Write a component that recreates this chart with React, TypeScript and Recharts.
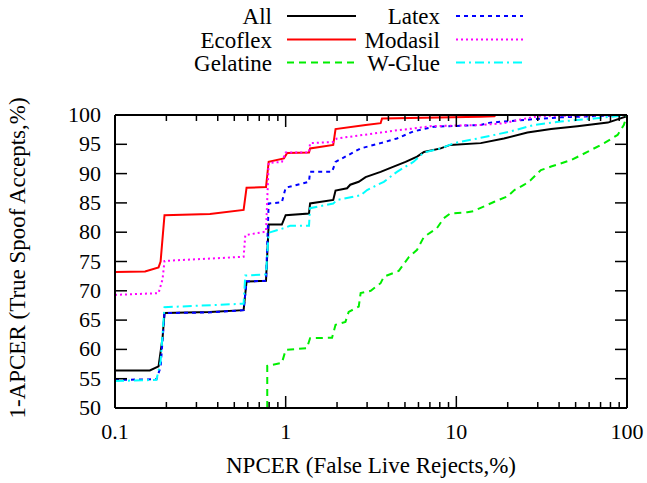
import React from 'react';
import { LineChart, Line, XAxis, YAxis } from 'recharts';

const FONT = "'Liberation Serif', 'Times New Roman', serif";

const xMajorTicks = [0.1, 1, 10, 100];
const xMinorTicks = [0.2, 0.3, 0.4, 0.5, 0.6, 0.7, 0.8, 0.9, 2, 3, 4, 5, 6, 7, 8, 9, 20, 30, 40, 50, 60, 70, 80, 90];
const yTicks = [50, 55, 60, 65, 70, 75, 80, 85, 90, 95, 100];
const xLabel = 'NPCER (False Live Rejects,%)';
const yLabel = '1-APCER (True Spoof Accepts,%)';

const allData: [number, number][] = [
  [0.1, 56.4], [0.16, 56.4], [0.18, 57.1], [0.19, 62], [0.195, 66.2], [0.36, 66.4], [0.567, 66.7],
  [0.59, 71.6], [0.767, 71.7], [0.795, 81.3], [0.95, 81.3], [1.0, 82.9], [1.37, 83.2], [1.39, 84.9],
  [1.9, 85.5], [1.96, 87.1], [2.29, 87.5], [2.39, 88.1], [2.68, 88.6], [2.94, 89.4], [3.6, 90.3],
  [4.29, 91.2], [5.04, 92.0], [5.89, 92.9], [6.46, 93.7], [8.1, 94.3], [9.2, 94.9], [13.9, 95.2],
  [19.0, 96.0], [26.1, 97.0], [35.9, 97.6], [51.2, 98.1], [77.2, 98.7], [100, 99.8],
];
const ecoflexData: [number, number][] = [
  [0.1, 73.2], [0.15, 73.3], [0.18, 74.0], [0.185, 75], [0.195, 82.9], [0.36, 83.1], [0.567, 83.8],
  [0.59, 87.6], [0.767, 87.7], [0.795, 92.0], [0.977, 92.6], [1.02, 93.5], [1.37, 93.6], [1.39, 94.3],
  [1.9, 94.9], [1.96, 97.6], [2.94, 98.3], [3.6, 98.6], [3.67, 99.4], [13.9, 99.7], [16.7, 99.8],
  [17, 100], [100, 100],
];
const gelatineData: [number, number][] = [
  [0.78, 50], [0.78, 57.2], [0.81, 57.3], [0.95, 57.7], [1.0, 59.9], [1.33, 60.2], [1.39, 61.9],
  [1.87, 62.0], [1.96, 64.2], [2.24, 64.7], [2.34, 66.4], [2.68, 67.3], [2.75, 69.6], [3.15, 70.0],
  [3.6, 71.3], [3.76, 72.4], [4.6, 73.4], [5.28, 75.8], [5.89, 77.0], [6.46, 79.2], [7.7, 80.7],
  [8.45, 82.4], [9.2, 83.2], [11.6, 83.4], [12.6, 83.6], [16.7, 85.2], [19.9, 86.1], [21.9, 87.2],
  [25.0, 88.1], [27.3, 88.9], [31.3, 90.6], [35.9, 91.2], [47.0, 92.3], [58.6, 93.7], [73.5, 95.2],
  [88.1, 96.6], [95.8, 98.3], [100, 100],
];
const latexData: [number, number][] = [
  [0.1, 54.8], [0.175, 54.9], [0.185, 57], [0.195, 66.2], [0.353, 66.3], [0.567, 66.7], [0.59, 71.6],
  [0.767, 71.7], [0.795, 84.9], [0.95, 85.1], [1.0, 87.6], [1.37, 88.6], [1.39, 90.3], [1.87, 90.3],
  [1.96, 92.0], [2.75, 94.3], [3.6, 95.2], [4.49, 96.0], [5.6, 97.2], [7.4, 98.0], [13.9, 98.3],
  [15.8, 98.7], [26.1, 99.2], [40.8, 99.6], [100, 100],
];
const modasilData: [number, number][] = [
  [0.1, 69.3], [0.18, 69.6], [0.19, 72], [0.195, 75.1], [0.567, 75.8], [0.58, 79.5], [0.767, 80.1],
  [0.795, 91.8], [0.95, 92.0], [1.0, 93.6], [1.37, 93.6], [1.39, 95.2], [1.9, 95.4], [2.0, 96.0],
  [3.6, 97.0], [4.49, 97.4], [5.6, 97.7], [7.1, 98.1], [13.9, 98.3], [19.0, 98.6], [22.7, 99.1],
  [29.9, 99.8], [100, 100],
];
const wglueData: [number, number][] = [
  [0.1, 54.6], [0.175, 54.8], [0.185, 58], [0.195, 67.2], [0.567, 67.8], [0.58, 72.6], [0.767, 72.8],
  [0.795, 79.9], [0.977, 80.7], [1.06, 81.1], [1.37, 81.1], [1.39, 84.1], [1.9, 84.9], [2.0, 85.5],
  [2.75, 86.3], [3.0, 87.2], [3.76, 88.6], [4.49, 90.3], [5.6, 92.0], [6.46, 93.6], [8.1, 94.3],
  [9.7, 95.2], [13.9, 96.1], [20.8, 97.2], [28.5, 98.3], [40.8, 98.9], [64.5, 99.4], [100, 100],
];

const toPoints = (arr: [number, number][]) => arr.map(([x, y]) => ({ x, y }));

const series = [
  { name: 'All', data: allData, color: '#000000', dash: undefined as string | undefined },
  { name: 'Ecoflex', data: ecoflexData, color: '#ff0000', dash: undefined },
  { name: 'Gelatine', data: gelatineData, color: '#00ee00', dash: '7 5' },
  { name: 'Latex', data: latexData, color: '#0000ff', dash: '4 4' },
  { name: 'Modasil', data: modasilData, color: '#ff00ff', dash: '2 3' },
  { name: 'W-Glue', data: wglueData, color: '#00ffff', dash: '9 4 2 4' },
];

const allXTicks = [...xMajorTicks, ...xMinorTicks].sort((a, b) => a - b);
const isMajor = (v: number) => xMajorTicks.some((m) => Math.abs(m - v) < 1e-9);

const M = { top: 114, right: 19, bottom: 15, left: 15 };
const BOTTOM_H = 60;
const LEFT_W = 100;
const TICK_FS = 22;
const LABEL_FS = 23;

const BottomTick = (props: any) => {
  const { x, y, payload } = props;
  const v = payload.value;
  const major = isMajor(v);
  return (
    <g>
      <line x1={x} y1={y} x2={x} y2={y - (major ? 12 : 6)} stroke="#000" strokeWidth={1.5} />
      {major && (
        <text x={x} y={y + 31} textAnchor="middle" fontFamily={FONT} fontSize={TICK_FS} fill="#000">
          {String(v)}
        </text>
      )}
    </g>
  );
};

const TopTick = (props: any) => {
  const { x, y, payload } = props;
  const major = isMajor(payload.value);
  return <line x1={x} y1={y} x2={x} y2={y + (major ? 12 : 6)} stroke="#000" strokeWidth={1.5} />;
};

const LeftTick = (props: any) => {
  const { x, y, payload } = props;
  return (
    <g>
      <line x1={x} y1={y} x2={x + 12} y2={y} stroke="#000" strokeWidth={1.5} />
      <text x={x - 14} y={y + 7} textAnchor="end" fontFamily={FONT} fontSize={TICK_FS} fill="#000">
        {String(payload.value)}
      </text>
    </g>
  );
};

const RightTick = (props: any) => {
  const { x, y } = props;
  return <line x1={x} y1={y} x2={x - 12} y2={y} stroke="#000" strokeWidth={1.5} />;
};

const XLabel = (props: any) => {
  const vb = props.viewBox || {};
  return (
    <text x={vb.x + vb.width / 2} y={vb.y + 65} textAnchor="middle" fontFamily={FONT} fontSize={LABEL_FS} fill="#000">
      {xLabel}
    </text>
  );
};

const YLabel = () => (
  <text x={0} y={0} transform="translate(25,258) rotate(-90)" textAnchor="middle" fontFamily={FONT} fontSize={LABEL_FS} fill="#000">
    {yLabel}
  </text>
);

const legendCols = [
  { textRight: 272, lineX1: 287, lineX2: 356 },
  { textRight: 440, lineX1: 456, lineX2: 523 },
];
const legendRowY = [16, 39.5, 62.5];

// legend drawn inside the chart svg (as the top axis label)
const LegendGroup = () => (
  <g>
    {series.map((s, i) => {
      const col = legendCols[Math.floor(i / 3)];
      const ry = legendRowY[i % 3];
      return (
        <g key={s.name}>
          <text x={col.textRight} y={ry + 8} textAnchor="end" fontFamily={FONT} fontSize={LABEL_FS} fill="#000">
            {s.name}
          </text>
          <line x1={col.lineX1} y1={ry} x2={col.lineX2} y2={ry} stroke={s.color} strokeWidth={2} strokeDasharray={s.dash} />
        </g>
      );
    })}
  </g>
);

export default function App() {
  return (
    <div style={{ position: 'absolute', left: 0, top: 0, width: 647, height: 483, background: '#fff' }}>
      <LineChart width={647} height={483} margin={M} style={{ fontFamily: FONT }}>
        <XAxis
          xAxisId="bottom"
          dataKey="x"
          type="number"
          scale="log"
          domain={[0.1, 100]}
          allowDataOverflow
          ticks={allXTicks}
          interval={0}
          height={BOTTOM_H}
          tickSize={0}
          tickMargin={0}
          tickLine={false}
          axisLine={{ stroke: '#000', strokeWidth: 2 }}
          tick={BottomTick}
          label={<XLabel />}
        />
        <XAxis
          xAxisId="top"
          orientation="top"
          dataKey="x"
          type="number"
          scale="log"
          domain={[0.1, 100]}
          allowDataOverflow
          ticks={allXTicks}
          interval={0}
          height={1}
          tickSize={0}
          tickMargin={0}
          tickLine={false}
          axisLine={{ stroke: '#000', strokeWidth: 2 }}
          tick={TopTick}
          label={<LegendGroup />}
        />
        <YAxis
          yAxisId="left"
          type="number"
          domain={[50, 100]}
          allowDataOverflow
          ticks={yTicks}
          interval={0}
          width={LEFT_W}
          tickSize={0}
          tickMargin={0}
          tickLine={false}
          axisLine={{ stroke: '#000', strokeWidth: 2 }}
          tick={LeftTick}
          label={<YLabel />}
        />
        <YAxis
          yAxisId="right"
          orientation="right"
          type="number"
          domain={[50, 100]}
          allowDataOverflow
          ticks={yTicks}
          interval={0}
          width={1}
          tickSize={0}
          tickMargin={0}
          tickLine={false}
          axisLine={{ stroke: '#000', strokeWidth: 2 }}
          tick={RightTick}
        />
        {series.map((s) => (
          <Line
            key={s.name}
            name={s.name}
            data={toPoints(s.data)}
            dataKey="y"
            xAxisId="bottom"
            yAxisId="left"
            type="linear"
            dot={false}
            activeDot={false}
            stroke={s.color}
            strokeWidth={2}
            strokeDasharray={s.dash}
            isAnimationActive={false}
          />
        ))}
      </LineChart>
    </div>
  );
}
